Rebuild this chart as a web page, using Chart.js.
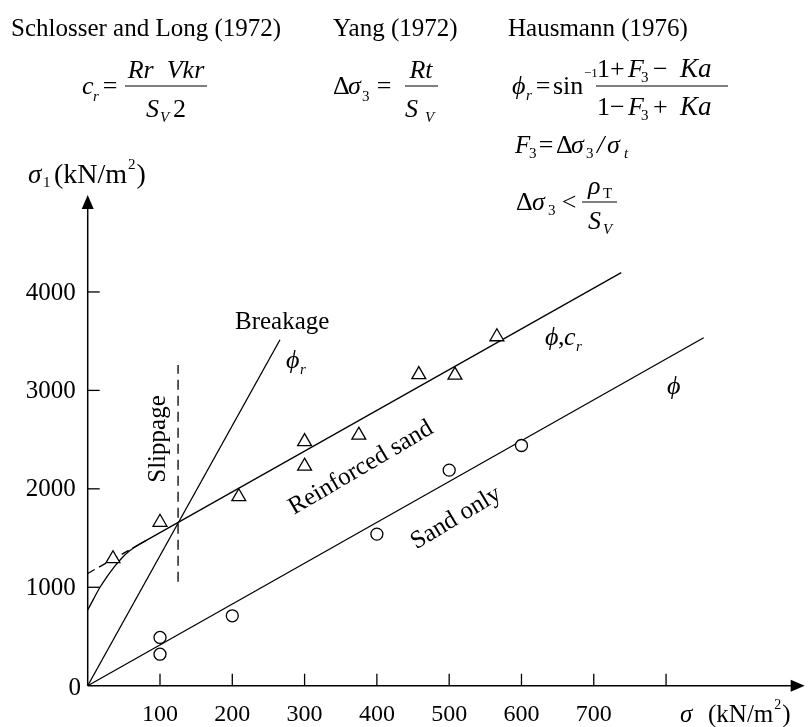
<!DOCTYPE html>
<html>
<head>
<meta charset="utf-8">
<script src="https://cdn.jsdelivr.net/npm/chart.js@4/dist/chart.umd.min.js"></script>
<style>
  html, body { margin: 0; padding: 0; background: #fff; }
  #wrap { width: 812px; height: 727px; position: relative; }
</style>
</head>
<body>
<div id="wrap"><canvas id="stressChart"></canvas></div>
<script>
// test points: confining stress sigma3 vs major principal stress sigma1 (kN/m2)
const reinforcedSigma3 = [35, 100, 209, 300, 300, 375, 458, 508, 566];
const reinforcedSigma1 = [1290, 1660, 1920, 2480, 2230, 2545, 3160, 3155, 3545];
const sandSigma3 = [100, 100, 200, 400, 500, 600];
const sandSigma1 = [490, 320, 710, 1540, 2190, 2440];

// failure envelopes
const reinforcedFitX = [62, 738];
const reinforcedFitY = [1397, 4196];
const reinforcedExtX = [0, 62];
const reinforcedExtY = [1140, 1397];
const sandFitX = [0, 852];
const sandFitY = [0, 3535];
const breakageX = [0, 266];
const breakageY = [0, 3515];
const slippageX = [125, 125];
const slippageY = [1057, 3258];
const lowStressX = [0, 8, 17, 27, 37, 47, 58, 70, 80];
const lowStressY = [769, 880, 1000, 1110, 1210, 1295, 1370, 1430, 1471];

// axis ticks
const xTicks = [100, 200, 300, 400, 500, 600, 700, 800];
const xTickLabels = ['100', '200', '300', '400', '500', '600', '700', ''];
const yTicks = [0, 1000, 2000, 3000, 4000];
const yTickLabels = ['0', '1000', '2000', '3000', '4000'];

const SERIF = '"Liberation Serif", "Times New Roman", "DejaVu Serif", serif';

function pts(xs, ys) {
  return xs.map((x, i) => ({ x: x, y: ys[i] }));
}

// draws text and returns the x where it ends
function put(ctx, s, x, y, size, style, align) {
  ctx.font = (style === 'i' ? 'italic ' : '') + size + 'px ' + SERIF;
  ctx.textAlign = align || 'left';
  ctx.textBaseline = 'alphabetic';
  ctx.fillText(s, x, y);
  return x + ctx.measureText(s).width;
}

function hline(ctx, x1, x2, y, w) {
  ctx.beginPath();
  ctx.moveTo(x1, y);
  ctx.lineTo(x2, y);
  ctx.lineWidth = w || 1.2;
  ctx.stroke();
}

function rotated(ctx, s, cx, cy, deg, size) {
  ctx.save();
  ctx.translate(cx, cy);
  ctx.rotate(deg * Math.PI / 180);
  ctx.font = size + 'px ' + SERIF;
  ctx.textAlign = 'center';
  ctx.textBaseline = 'middle';
  ctx.fillText(s, 0, 0);
  ctx.restore();
}

// unit label "(kN/m²)" with a raised 2
function units(ctx, x, y, size) {
  let e = put(ctx, '(kN/m', x, y, size);
  e = put(ctx, '2', e + 1, y - Math.round(size * 0.5), Math.round(size * 0.55));
  put(ctx, ')', e + 1, y, size);
}

// axes with arrows, inward ticks, tick labels
const axesPlugin = {
  id: 'axesPlugin',
  afterDraw(chart) {
    const ctx = chart.ctx;
    const xs = chart.scales.x, ys = chart.scales.y;
    const x0 = xs.getPixelForValue(0), y0 = ys.getPixelForValue(0);
    const top = chart.chartArea.top, right = chart.chartArea.right;
    ctx.save();
    ctx.strokeStyle = '#000';
    ctx.fillStyle = '#000';
    ctx.lineWidth = 1.5;
    ctx.beginPath();
    ctx.moveTo(x0, y0);
    ctx.lineTo(x0, top + 10);
    ctx.moveTo(x0, y0);
    ctx.lineTo(right - 10, y0);
    ctx.stroke();
    // arrow heads
    ctx.beginPath();
    ctx.moveTo(x0, top);
    ctx.lineTo(x0 - 6, top + 14);
    ctx.lineTo(x0 + 6, top + 14);
    ctx.closePath();
    ctx.fill();
    ctx.beginPath();
    ctx.moveTo(right + 2, y0);
    ctx.lineTo(right - 12, y0 - 6);
    ctx.lineTo(right - 12, y0 + 6);
    ctx.closePath();
    ctx.fill();

    ctx.lineWidth = 1.3;
    xTicks.forEach((v, i) => {
      const px = xs.getPixelForValue(v);
      ctx.beginPath();
      ctx.moveTo(px, y0);
      ctx.lineTo(px, y0 - 12);
      ctx.stroke();
      ctx.font = '24px ' + SERIF;
      ctx.textAlign = 'center';
      ctx.textBaseline = 'middle';
      ctx.fillText(xTickLabels[i], px, y0 + 29);
    });
    yTicks.forEach((v, i) => {
      const py = ys.getPixelForValue(v);
      if (v > 0) {
        ctx.beginPath();
        ctx.moveTo(x0, py);
        ctx.lineTo(x0 + 12, py);
        ctx.stroke();
      }
      ctx.font = '25px ' + SERIF;
      ctx.textBaseline = 'middle';
      if (v === 0) {
        ctx.textAlign = 'center';
        ctx.fillText(yTickLabels[i], x0 - 13, py + 3);
      } else {
        ctx.textAlign = 'right';
        ctx.fillText(yTickLabels[i], x0 - 12, py + 1);
      }
    });

    // axis titles
    put(ctx, 'σ', 28, 183, 27, 'i');
    put(ctx, '1', 43, 187, 15);
    units(ctx, 54, 183, 28);

    put(ctx, 'σ', 680, 722, 25, 'i');
    units(ctx, 708, 722, 25);
    ctx.restore();
  }
};

// headings, formulas and curve annotations
const notesPlugin = {
  id: 'notesPlugin',
  afterDraw(chart) {
    const ctx = chart.ctx;
    ctx.save();
    ctx.fillStyle = '#000';
    ctx.strokeStyle = '#000';

    put(ctx, 'Schlosser and Long (1972)', 11, 36, 25);
    put(ctx, 'Yang (1972)', 333, 36, 25);
    put(ctx, 'Hausmann (1976)', 508, 36, 25);

    // c_r = Rr Vkr / (S_V 2)
    put(ctx, 'c', 82, 94, 26, 'i');
    put(ctx, 'r', 93, 101, 15, 'i');
    put(ctx, '=', 110, 94, 26, 'n', 'center');
    hline(ctx, 125, 207, 86);
    put(ctx, 'Rr  Vkr', 166, 78, 26, 'i', 'center');
    put(ctx, 'S', 146, 117, 26, 'i');
    put(ctx, 'V', 160, 122, 15, 'i');
    put(ctx, '2', 173, 117, 26);

    // delta sigma3 = Rt / S_V
    put(ctx, 'Δ', 333, 94, 26);
    put(ctx, 'σ', 348, 94, 26, 'i');
    put(ctx, '3', 362, 101, 15);
    put(ctx, '=', 384, 94, 26, 'n', 'center');
    hline(ctx, 405, 438, 86);
    put(ctx, 'Rt', 421, 78, 26, 'i', 'center');
    put(ctx, 'S', 405, 117, 26, 'i');
    put(ctx, 'V', 425, 122, 15, 'i');

    // phi_r = sin^-1 (1 + F3 - Ka)/(1 - F3 + Ka)
    put(ctx, 'ϕ', 512, 94, 26, 'i');
    put(ctx, 'r', 526, 100, 15, 'i');
    put(ctx, '=', 543, 94, 26, 'n', 'center');
    put(ctx, 'sin', 553, 94, 26);
    put(ctx, '−1', 584, 77, 13);
    hline(ctx, 596, 728, 86);
    [[77, '+', '−'], [115, '−', '+']].forEach(([b, s1, s2]) => {
      put(ctx, '1', 597, b, 26);
      put(ctx, s1, 610, b, 26);
      put(ctx, 'F', 628, b, 26, 'i');
      put(ctx, '3', 641, b + 5, 15);
      put(ctx, s2, 653, b, 26);
      put(ctx, 'Ka', 680, b, 27, 'i');
    });

    // F3 = delta sigma3 / sigma_t
    put(ctx, 'F', 515, 153, 25, 'i');
    put(ctx, '3', 529, 158, 15);
    put(ctx, '=', 546, 153, 26, 'n', 'center');
    put(ctx, 'Δ', 556, 153, 26);
    put(ctx, 'σ', 571, 153, 26, 'i');
    put(ctx, '3', 586, 158, 15);
    put(ctx, '/', 597, 153, 26, 'i');
    put(ctx, 'σ', 607, 153, 26, 'i');
    put(ctx, 't', 624, 158, 15, 'i');

    // delta sigma3 < rho_T / S_V
    put(ctx, 'Δ', 516, 210, 26);
    put(ctx, 'σ', 532, 210, 26, 'i');
    put(ctx, '3', 548, 215, 15);
    put(ctx, '<', 569, 210, 26, 'n', 'center');
    hline(ctx, 582, 617, 202);
    put(ctx, 'ρ', 588, 194, 26, 'i');
    put(ctx, 'T', 603, 198, 15);
    put(ctx, 'S', 588, 229, 26, 'i');
    put(ctx, 'V', 603, 234, 15, 'i');

    // curve annotations
    put(ctx, 'Breakage', 235, 329, 25);
    put(ctx, 'ϕ', 286, 368, 26, 'i');
    put(ctx, 'r', 300, 374, 15, 'i');
    put(ctx, 'ϕ', 545, 345, 26, 'i');
    put(ctx, ',', 558, 345, 26);
    put(ctx, 'c', 564, 345, 26, 'i');
    put(ctx, 'r', 576, 351, 15, 'i');
    put(ctx, 'ϕ', 667, 394, 26, 'i');

    rotated(ctx, 'Reinforced sand', 361, 468, -30.5, 25);
    rotated(ctx, 'Sand only', 456, 518, -31, 25);
    rotated(ctx, 'Slippage', 158, 439, -90, 25);
    ctx.restore();
  }
};

const lineStyle = {
  showLine: true,
  pointRadius: 0,
  borderColor: '#000',
  borderWidth: 1.3,
  fill: false,
  clip: false
};

new Chart(document.getElementById('stressChart'), {
  type: 'scatter',
  data: {
    datasets: [
      {
        label: 'Reinforced sand',
        data: pts(reinforcedSigma3, reinforcedSigma1),
        pointStyle: 'triangle',
        pointRadius: 8,
        pointBackgroundColor: '#fff',
        pointBorderColor: '#000',
        pointBorderWidth: 1.3,
        clip: false
      },
      {
        label: 'Sand only',
        data: pts(sandSigma3, sandSigma1),
        pointStyle: 'circle',
        pointRadius: 6,
        pointBackgroundColor: '#fff',
        pointBorderColor: '#000',
        pointBorderWidth: 1.3,
        clip: false
      },
      Object.assign({ label: 'phi, cr', data: pts(reinforcedFitX, reinforcedFitY) }, lineStyle),
      Object.assign({ label: 'extension', data: pts(reinforcedExtX, reinforcedExtY), borderDash: [8, 5] }, lineStyle),
      Object.assign({ label: 'phi', data: pts(sandFitX, sandFitY) }, lineStyle),
      Object.assign({ label: 'breakage', data: pts(breakageX, breakageY) }, lineStyle),
      Object.assign({ label: 'slippage', data: pts(slippageX, slippageY), borderDash: [10, 6] }, lineStyle),
      Object.assign({ label: 'low stress', data: pts(lowStressX, lowStressY), cubicInterpolationMode: 'monotone' }, lineStyle)
    ]
  },
  options: {
    responsive: true,
    maintainAspectRatio: false,
    animation: false,
    layout: { padding: { left: 87.7, top: 195, right: 0, bottom: 41.3 } },
    plugins: {
      legend: { display: false },
      tooltip: { enabled: false }
    },
    scales: {
      x: { type: 'linear', min: 0, max: 989, display: false },
      y: { type: 'linear', min: 0, max: 4985, display: false }
    }
  },
  plugins: [axesPlugin, notesPlugin]
});
</script>
</body>
</html>
